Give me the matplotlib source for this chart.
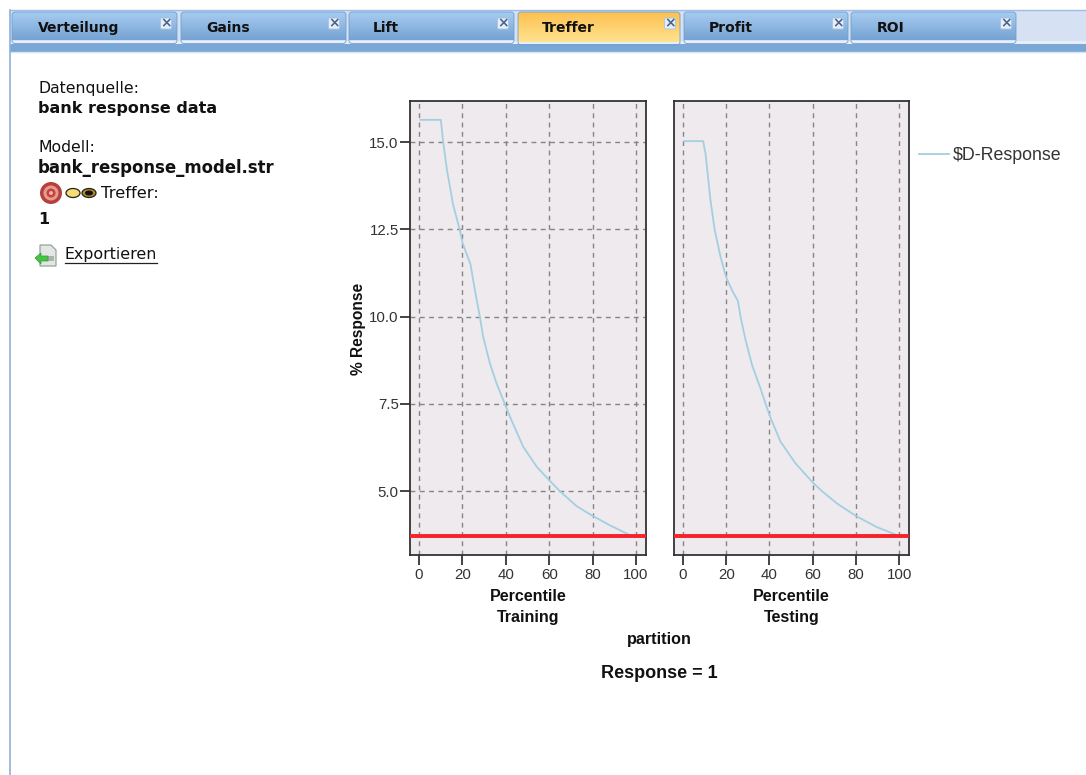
import matplotlib
matplotlib.use("Agg")
import matplotlib.pyplot as plt
import numpy as np
from matplotlib.patches import Circle, Ellipse, FancyBboxPatch, Polygon, Rectangle

W, H = 1086, 775

# curve values
train_x = [0.6, 10, 11.1, 12.9, 15.7, 18.5, 20, 21.1, 23.7, 24.9, 26.5, 28, 29.5, 32.6, 35.7, 39.5, 42.6, 48, 54.2, 60, 64.9, 72.6, 80, 88, 96.5]
train_y = [15.64, 15.64, 15.0, 14.18, 13.2, 12.55, 12.12, 11.93, 11.5, 11.05, 10.49, 10.0, 9.43, 8.67, 8.09, 7.5, 7.03, 6.27, 5.7, 5.31, 5.0, 4.57, 4.29, 4.02, 3.76]
test_x = [0.6, 9.3, 10.4, 12.7, 14.6, 17.4, 20, 22.8, 25.4, 26.6, 28.9, 32, 35.8, 38.2, 40.5, 45.1, 52, 60, 64.3, 71.2, 80, 89.7, 98.2]
test_y = [15.03, 15.03, 14.67, 13.33, 12.5, 11.7, 11.12, 10.74, 10.45, 10.0, 9.34, 8.6, 7.95, 7.5, 7.1, 6.42, 5.8, 5.25, 5.0, 4.65, 4.29, 3.97, 3.76]
baseline = 3.71
x_ticks = [0, 20, 40, 60, 80, 100]
y_ticks = [5.0, 7.5, 10.0, 12.5, 15.0]
y_labels = ["5.0", "7.5", "10.0", "12.5", "15.0"]
partitions = ["Training", "Testing"]
tab_names = ["Verteilung", "Gains", "Lift", "Treffer", "Profit", "ROI"]
tab_left = [12, 181, 349, 518, 684, 851]
tab_right = [177, 346, 514, 680, 848, 1016]
tab_text_x = [38, 206, 373, 542, 709, 877]
tab_close_x = [166, 334, 503, 670, 838, 1006]

SANS = "Liberation Sans"
UI = "DejaVu Sans"

fig = plt.figure(figsize=(W / 100, H / 100), dpi=100, facecolor="white")

# pixel-coordinate layer for the application chrome
ui = fig.add_axes([0, 0, 1, 1], zorder=0)
ui.set_xlim(0, W)
ui.set_ylim(H, 0)
ui.axis("off")


def vgrad(x0, x1, y0, y1, top, bottom):
    grad = np.linspace(0, 1, 32)[:, None, None]
    img = (1 - grad) * np.array(matplotlib.colors.to_rgb(top)) + grad * np.array(matplotlib.colors.to_rgb(bottom))
    return ui.imshow(img, extent=[x0, x1, y1, y0], aspect="auto", zorder=2, interpolation="bilinear")


ui.add_patch(Rectangle((10, 10), W - 10, 32, fc="#d6e1f3", ec="none", zorder=1))
ui.plot([10, W], [9.5, 9.5], color="#9dbde2", lw=1, zorder=1)
ui.add_patch(Rectangle((10, 44), W - 10, 7.5, fc="#7aa7d6", ec="none", zorder=1))
ui.add_patch(Rectangle((10, 40.5), W - 10, 3.5, fc="#e6eefa", ec="none", zorder=1))
ui.plot([10, W], [52, 52], color="#d5e3f3", lw=1, zorder=1)
ui.plot([10, 10], [10, H], color="#8fb2dc", lw=1.2, zorder=1)

for name, x0, x1, tx, bx in zip(tab_names, tab_left, tab_right, tab_text_x, tab_close_x):
    active = name == "Treffer"
    top, bottom = ("#fdc050", "#ffe38e") if active else ("#a8cdf1", "#76a3d3")
    y1 = 42 if active else 40.5
    im = vgrad(x0, x1, 12, y1, top, bottom)
    clip = FancyBboxPatch((x0 + 3, 15), x1 - x0 - 6, y1 - 15, boxstyle="round,pad=3",
                          fc="none", ec="#6f9fd0", lw=0.6, zorder=3)
    ui.add_patch(clip)
    im.set_clip_path(clip)
    ui.text(tx, 32, name, family=UI, fontweight="bold", fontsize=10, color="#111111",
            va="baseline", ha="left", zorder=4)
    # close button
    ui.add_patch(FancyBboxPatch((bx - 4, 19.5), 8, 8, boxstyle="round,pad=1.5", fc="#e8eef8",
                                ec="#a9c3e0", lw=0.6, zorder=4))
    ui.text(bx, 23.5, "×", family=UI, fontweight="bold", fontsize=10, color="#44648f",
            ha="center", va="center", zorder=5)

side_text = [
    (38, 88, "Datenquelle:", "normal", 11.3),
    (38, 109, "bank response data", "bold", 11.5),
    (38, 147, "Modell:", "normal", 11.3),
    (38, 168, "bank_response_model.str", "bold", 11.9),
    (101, 193, "Treffer:", "normal", 11.8),
    (38, 220, "1", "bold", 11.5),
    (65, 255, "Exportieren", "normal", 11.4),
]
for tx, ty, label, weight, size in side_text:
    ui.text(tx, ty, label, family=UI, fontsize=size, fontweight=weight, color="#111111",
            va="center", ha="left", zorder=4)
ui.plot([65, 157], [263, 263], color="#222222", lw=0.9, zorder=4)

# small icons
for radius, colour in [(11, "#b5403c"), (7.5, "#e79a90"), (4.5, "#c0433d"), (2, "#eeb0a5")]:
    ui.add_patch(Circle((51, 193), radius, fc=colour, ec="none", zorder=4))
ui.add_patch(Ellipse((73, 193), 14, 9, fc="#f6dc73", ec="#222222", lw=0.9, zorder=4))
ui.add_patch(Ellipse((89, 193), 14, 9, fc="#b08a20", ec="#222222", lw=0.9, zorder=4))
ui.add_patch(Ellipse((89, 193), 8, 5, fc="#111111", ec="none", zorder=5))
ui.add_patch(Polygon([(40, 245), (51, 245), (56, 250), (56, 266), (40, 266)], fc="#e4e6e4", ec="#8b9a92", lw=0.8, zorder=4))
ui.add_patch(Rectangle((44, 256), 10, 5, fc="#aab4ae", ec="none", zorder=5))
ui.add_patch(Polygon([(35, 258), (41, 253), (41, 256), (48, 256), (48, 261), (41, 261), (41, 264)], fc="#47c447", ec="#2e9a30", lw=0.5, zorder=6))

# the two chart panels
panels = [(410, 646), (674, 909)]
top_px, bottom_px = 101, 555
curves = [(train_x, train_y), (test_x, test_y)]
for i, ((x0, x1), (cx, cy), part) in enumerate(zip(panels, curves, partitions)):
    ax = fig.add_axes([x0 / W, 1 - bottom_px / H, (x1 - x0) / W, (bottom_px - top_px) / H], zorder=2)
    ax.set_facecolor("#eeeaee")
    ax.set_xlim(-4.2, 104.6)
    ax.set_ylim(3.17, 16.18)
    ax.grid(True, color="#858585", ls=(0, (3.5, 3.2)), lw=1.0)
    ax.set_axisbelow(True)
    line, = ax.plot(cx, cy, color="#a3cfe2", lw=1.3, zorder=3, label="$D-Response")
    ax.axhline(baseline, color="#f5232b", lw=2.8, zorder=4, clip_on=False, solid_capstyle="butt")
    ax.set_xticks(x_ticks)
    ax.set_yticks(y_ticks if i == 0 else [])
    ax.set_yticklabels(y_labels if i == 0 else [])
    ax.tick_params(axis="both", length=7.5, width=1.1, color="#111111", labelcolor="#333333", labelsize=10.8)
    ax.tick_params(axis="y", pad=0.6)
    ax.tick_params(axis="x", pad=2)
    for label in ax.get_xticklabels() + ax.get_yticklabels():
        label.set_family(SANS)
    for spine in ax.spines.values():
        spine.set_color("#333333")
        spine.set_linewidth(1.3)
    xc = (x0 + x1) / 2
    ui.text(xc, 596.5, "Percentile", family=SANS, fontweight="bold", fontsize=11.5, color="#111111", ha="center", va="center")
    ui.text(xc, 617.5, part, family=SANS, fontweight="bold", fontsize=11.5, color="#111111", ha="center", va="center")

ui.text(359, 329, "% Response", family=SANS, fontweight="bold", fontsize=11.2, color="#111111",
        rotation=90, ha="center", va="center")
ui.text(659, 639.5, "partition", family=SANS, fontweight="bold", fontsize=11.6, color="#111111", ha="center", va="center")
ui.text(659, 673, "Response = 1", family=SANS, fontweight="bold", fontsize=13, color="#111111", ha="center", va="center")

fig.legend([line], ["$D-Response"], loc="center left", bbox_to_anchor=(919 / W, 1 - 155.5 / H),
           frameon=False, handlelength=1.7, handletextpad=0.22, borderpad=0, borderaxespad=0,
           prop={"family": SANS, "size": 12.8}, labelcolor="#333333")

fig.savefig("out.png", dpi=100)
